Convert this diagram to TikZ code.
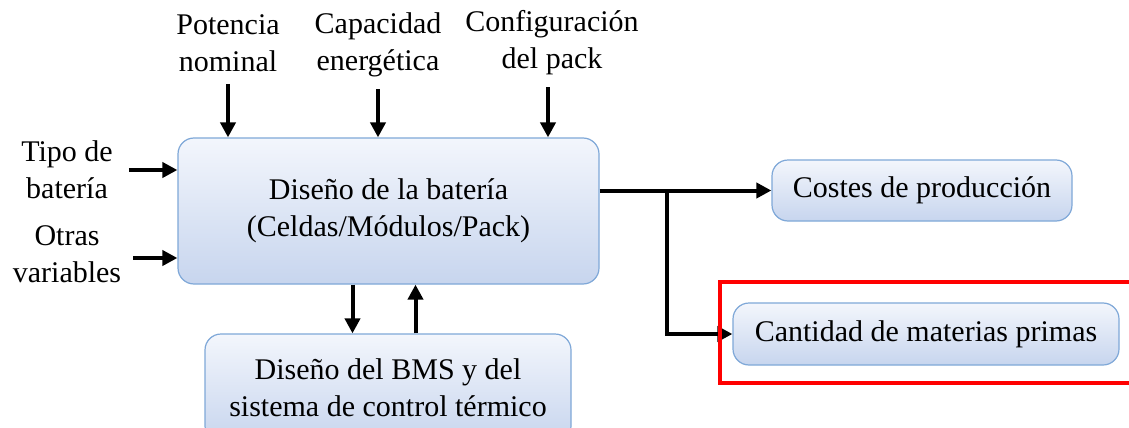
\documentclass[tikz,border=0pt]{standalone}
\usepackage{fontspec}
\setmainfont{Liberation Serif}
\usepackage{xcolor}
\usepackage{tikz}
\usetikzlibrary{arrows.meta,positioning}

\definecolor{bordeazul}{HTML}{7FA8D8}
\definecolor{azularriba}{HTML}{F3F6FC}
\definecolor{azulabajo}{HTML}{C7D5EE}

\begin{document}
\begin{tikzpicture}[x=1pt,y=-1pt,
          bloque/.style={draw=bordeazul,line width=1.2pt,rounded corners=16pt,
                         top color=azularriba,bottom color=azulabajo,
                         align=center,inner sep=0pt,font=\fontsize{30}{37}\selectfont},
          etiq/.style={align=center,inner sep=0pt,font=\fontsize{30}{37}\selectfont},
          flecha/.style={line width=4pt,-{Triangle[length=15pt,width=15pt]}}]
        \clip (0,0) rectangle (1129,428);
        \fill[white] (0,0) rectangle (1129,428);
        % bloques
        \node[bloque,minimum width=421pt,minimum height=146pt] (bat) at (388.5,211) {Diseño de la batería\\(Celdas/Módulos/Pack)};
        \node[bloque,minimum width=300pt,minimum height=61pt] (cos) at (922,190.5) {Costes de producción};
        \node[bloque,minimum width=386pt,minimum height=62pt] (mat) at (926,334) {Cantidad de materias primas};
        \node[bloque,minimum width=366pt,minimum height=108pt] (bms) at (388,388) {Diseño del BMS y del\\sistema de control térmico};
        % entradas
        \node[etiq] (tipo) at (67,170)  {Tipo de\\batería};
        \node[etiq] (otr)  at (67,254)  {Otras\\variables};
        \node[etiq] (pot)  at (228,43)  {Potencia\\nominal};
        \node[etiq] (cap)  at (378,45)  {Capacidad\\energética};
        \node[etiq] (conf) at (552,43)  {Configuración\\del pack};
        \draw[flecha] ([yshift=-12pt]pot.south) -- (pot.south |- bat.north);
        \draw[flecha] ([yshift=-12pt]cap.south) -- (cap.south |- bat.north);
        \draw[flecha] ([xshift=-4pt,yshift=-12pt]conf.south) -- ([xshift=-4pt]conf.south |- bat.north);
        \draw[flecha] ([xshift=16pt]tipo.east) -- (tipo.east -| bat.west);
        \draw[flecha] ([xshift=12pt,yshift=-4pt]otr.east) -- ([yshift=-4pt]otr.east -| bat.west);
        % salidas
        \coordinate (rama) at (667,190.5);
        \draw[flecha] (bat.east |- cos) -- (cos);
        \draw[flecha] (rama) |- (mat);
        \draw[flecha] ([xshift=-36pt]bat.south) -- ([xshift=-36pt]bat.south |- bms.north);
        \draw[flecha] ([xshift=27pt]bat.south |- bms.north) -- ([xshift=27pt]bat.south);
        % resaltado
        \draw[red,line width=4.5pt] (720,282) rectangle (1145,383);
      \end{tikzpicture}
\end{document}
